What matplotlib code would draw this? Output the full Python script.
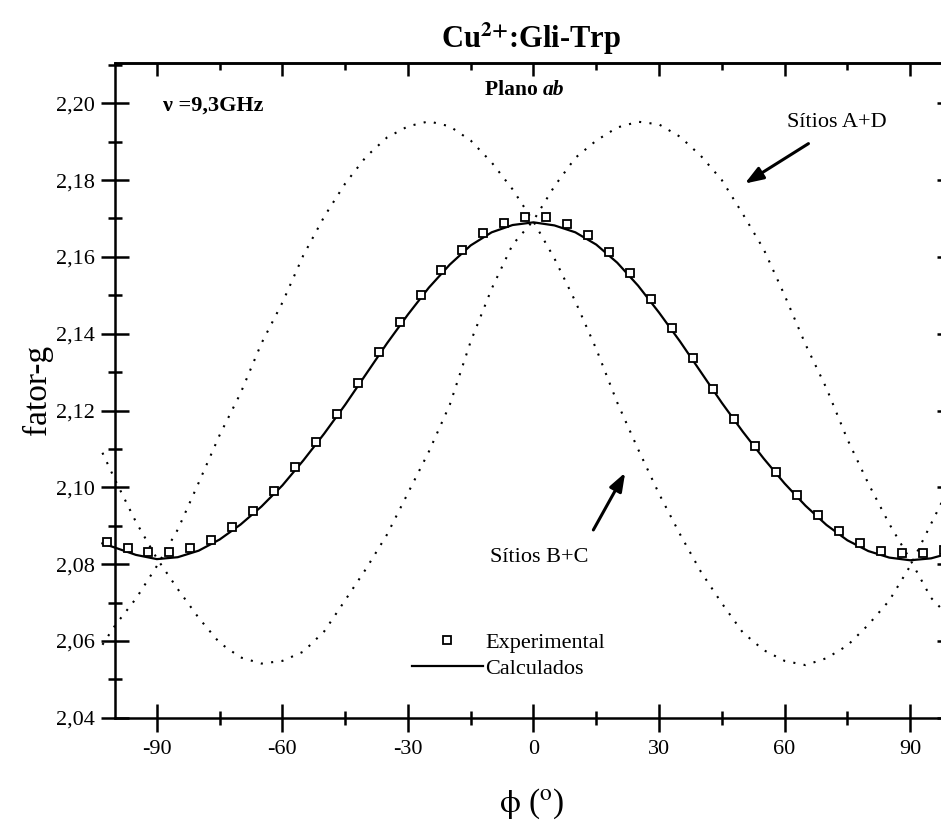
import matplotlib
matplotlib.use("Agg")
import matplotlib.pyplot as plt
from matplotlib.ticker import MultipleLocator, FuncFormatter

# Experimental g-factor readings (Plano ab)
phi_exp = [-102, -97, -92, -87, -82, -77, -72, -67, -62, -57, -52, -47, -42,
           -37, -32, -27, -22, -17, -12, -7, -2, 3, 8, 13, 18, 23, 28, 33,
           38, 43, 48, 53, 58, 63, 68, 73, 78, 83, 88, 93, 98]
g_exp = [2.0857, 2.0843, 2.0831, 2.0831, 2.0841, 2.0863, 2.0896, 2.0939,
         2.0991, 2.1053, 2.1118, 2.1191, 2.1272, 2.1353, 2.1430, 2.1501,
         2.1565, 2.1617, 2.1662, 2.1687, 2.1704, 2.1703, 2.1685, 2.1656,
         2.1612, 2.1557, 2.1491, 2.1415, 2.1338, 2.1256, 2.1177, 2.1107,
         2.1039, 2.0979, 2.0927, 2.0887, 2.0856, 2.0835, 2.0828, 2.0828,
         2.0838]

phi_calc = [-103, -100, -95, -90, -85, -80, -75, -70, -65, -60, -55, -50,
            -45, -40, -35, -30, -25, -20, -15, -10, -5, 0, 5, 10, 15, 20, 25,
            30, 35, 40, 45, 50, 55, 60, 65, 70, 75, 80, 85, 90, 95, 100]
g_calc = [2.0854, 2.0843, 2.0824, 2.0813, 2.0818, 2.0835, 2.0864, 2.0903,
          2.0950, 2.1005, 2.1070, 2.1140, 2.1215, 2.1295, 2.1375, 2.1450,
          2.1520, 2.1580, 2.1630, 2.1664, 2.1683, 2.1690, 2.1682, 2.1664,
          2.1632, 2.1585, 2.1525, 2.1455, 2.1380, 2.1300, 2.1220, 2.1145,
          2.1075, 2.1010, 2.0952, 2.0902, 2.0862, 2.0834, 2.0817, 2.0810,
          2.0815, 2.0830]
g_sites_bc = [2.0590, 2.0640, 2.0710, 2.0795, 2.0890, 2.1012, 2.1136, 2.1245,
              2.1375, 2.1481, 2.1604, 2.1705, 2.1791, 2.1861, 2.1911, 2.1940,
              2.1953, 2.1940, 2.1903, 2.1846, 2.1776, 2.1692, 2.1596, 2.1484,
              2.1360, 2.1221, 2.1099, 2.0983, 2.0878, 2.0780, 2.0698, 2.0622,
              2.0576, 2.0548, 2.0537, 2.0555, 2.0588, 2.0642, 2.0705, 2.0795,
              2.0905, 2.1015]
g_sites_ad = [2.1090, 2.1020, 2.0910, 2.0815, 2.0735, 2.0660, 2.0595, 2.0557,
              2.0541, 2.0548, 2.0572, 2.0625, 2.0706, 2.0788, 2.0877, 2.0985,
              2.1093, 2.1215, 2.1380, 2.1517, 2.1632, 2.1695, 2.1784, 2.1858,
              2.1903, 2.1937, 2.1952, 2.1945, 2.1913, 2.1863, 2.1800, 2.1712,
              2.1620, 2.1500, 2.1372, 2.1258, 2.1125, 2.1010, 2.0905, 2.0812,
              2.0712, 2.0655]

plt.rcParams['font.family'] = ['Liberation Serif', 'DejaVu Serif']
plt.rcParams['mathtext.fontset'] = 'stix'

fig = plt.figure(figsize=(9.41, 8.21), dpi=100)
ax = fig.add_axes([0.1222, 0.1258, 0.8895, 0.7975])

dots = dict(color='k', lw=1.5, linestyle=(0, (1, 4.0)), clip_on=False)
ax.plot(phi_calc, g_sites_bc, **dots)
ax.plot(phi_calc, g_sites_ad, **dots)
h_calc, = ax.plot(phi_calc, g_calc, '-', color='k', lw=1.6, clip_on=False,
                  label='Calculados')
h_exp, = ax.plot(phi_exp, g_exp, 's', ms=6.3, mfc='white', mec='k', mew=1.3,
                 clip_on=False, zorder=3, label='Experimental')

ax.set_xlim(-100, 100)
ax.set_ylim(2.04, 2.2105)

# Axis styling
ax.xaxis.set_major_locator(MultipleLocator(30))
ax.xaxis.set_minor_locator(MultipleLocator(15))
ax.yaxis.set_major_locator(MultipleLocator(0.02))
ax.yaxis.set_minor_locator(MultipleLocator(0.01))
ax.yaxis.set_major_formatter(FuncFormatter(lambda v, p: f"{v:.2f}".replace('.', ',')))
ax.xaxis.set_major_formatter(FuncFormatter(lambda v, p: f"{v:.0f}"))
ax.tick_params(which='major', direction='inout', length=20, width=1.8,
               labelsize=16, top=False, right=False)
ax.tick_params(which='minor', direction='inout', length=9.5, width=1.8,
               top=False, right=False)
ax.tick_params(axis='x', pad=6)
ax.tick_params(axis='y', pad=4.4)
for s in ax.spines.values():
    s.set_linewidth(1.8)

top = ax.secondary_xaxis('top')
top.xaxis.set_major_locator(MultipleLocator(30))
top.xaxis.set_minor_locator(MultipleLocator(15))
top.tick_params(which='major', direction='in', length=9.4, width=1.8, labeltop=False)
top.tick_params(which='minor', direction='in', length=5, width=1.8)
top.spines['top'].set_linewidth(1.8)

right = ax.secondary_yaxis('right')
right.yaxis.set_major_locator(MultipleLocator(0.02))
right.yaxis.set_minor_locator(MultipleLocator(0.01))
right.tick_params(which='major', direction='in', length=10.5, width=1.8, labelright=False)
right.tick_params(which='minor', direction='in', length=5, width=1.8)

# Annotations
ax.text(-88.5, 2.198, "ν =9,3GHz", fontsize=16, fontweight='bold', va='baseline')
t_plano = ax.text(-11.6, 2.2021, "Plano ", fontsize=15.5, fontweight='bold', va='baseline')
ax.annotate("ab", xy=(1, 0), xycoords=t_plano, va='bottom', fontsize=15.5,
            fontweight='bold', fontstyle='italic')
ax.text(60.5, 2.1938, "Sítios A+D", fontsize=16, va='baseline')
ax.text(-10.4, 2.0805, "Sítios B+C", fontsize=16, va='baseline')
arrow = dict(arrowstyle='-|>,head_length=0.55,head_width=0.2', lw=2.2,
             color='k', mutation_scale=20, shrinkA=0, shrinkB=0)
ax.annotate('', xy=(50.5, 2.1791), xytext=(65.7, 2.1895), arrowprops=arrow)
ax.annotate('', xy=(21.9, 2.1038), xytext=(14.3, 2.0889), arrowprops=arrow)

ax.legend(handles=[h_exp, h_calc], loc='upper left', bbox_to_anchor=(0.3545, 0.13),
          frameon=False, fontsize=16, handlelength=3.2, handletextpad=0.1,
          labelspacing=0.25, borderpad=0, borderaxespad=0, numpoints=1)

ax.set_ylabel("fator-g", fontsize=24, labelpad=2)
fig.text(532 / 941, 1 - 812 / 821, r"$\mathrm{\phi}$ ($^{\mathrm{o}}$)", fontsize=24,
         ha='center', va='baseline')
fig.text(531 / 941, 1 - 48 / 821, r"Cu$^{\mathbf{2{+}}}$:Gli-Trp", fontsize=22,
         fontweight='bold', ha='center', va='baseline')

fig.savefig("out.png", dpi=100)
